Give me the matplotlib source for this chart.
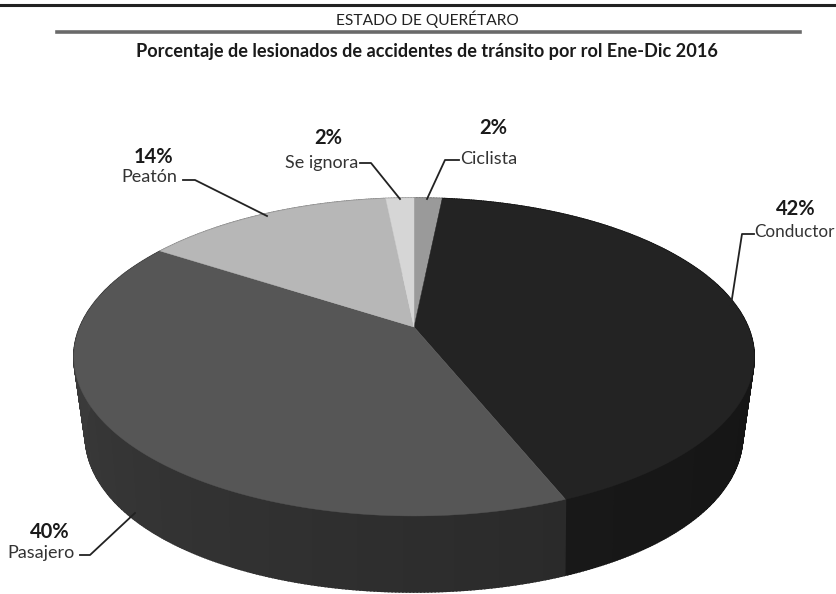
from matplotlib import pyplot as plt
from matplotlib.colors import to_rgb
from matplotlib.patches import Polygon
import numpy as np

roles = ['Ciclista', 'Conductor', 'Pasajero', 'Peatón', 'Se ignora']
shares = [1.6, 42.3, 40.3, 14.2, 1.6]
pct_labels = ['2%', '42%', '40%', '14%', '2%']
top_grey = ['#9a9a9a', '#232323', '#565656', '#b7b7b7', '#d6d6d6']
side_grey = [('#777777', '#777777'), ('#0f0f0f', '#181818'), ('#2a2a2a', '#404040'),
             ('#888888', '#888888'), ('#999999', '#999999')]

plt.rcParams['font.family'] = ['Lato', 'DejaVu Sans']

# projected circle: apex is not the ellipse centre because of the perspective
cx, cy = 414, 327
a, b, k = 334, 153.3, 0.1887
depth = 76
pinch = 0.035


def project(deg):
    t = np.radians(deg)
    w = 1 + k*np.sin(t)
    return cx + a*np.cos(t)/w, cy - b*np.sin(t)/w


fig = plt.figure(figsize=(8.36, 5.94), dpi=100)
ax = fig.add_axes([0, 0, 1, 1], xlim=(0, 836), ylim=(594, 0))
ax.axis('off')

ends = 90 - np.cumsum(shares)*3.6
starts = np.r_[90, ends[:-1]]

# side wall first, lower ring pulled in at the far left and right
for n in range(len(roles)):
    ang = np.linspace(starts[n], ends[n], 2*max(int(abs(ends[n] - starts[n])), 2) + 1)
    x, y = project(ang)
    xb = x - (x - cx)*pinch*np.cos(np.radians(ang))**2
    yb = y + depth
    c0 = np.array(to_rgb(side_grey[n][0]))
    c1 = np.array(to_rgb(side_grey[n][1]))
    for i in range(len(ang) - 1):
        c = c0 + (c1 - c0)*i/(len(ang) - 1)
        pts = [(x[i], y[i]), (x[i+1], y[i+1]), (xb[i+1], yb[i+1]), (xb[i], yb[i])]
        ax.add_patch(Polygon(pts, fc=c, ec=c, lw=1.2, zorder=2))

# top surface
for n in range(len(roles)):
    ang = np.linspace(starts[n], ends[n], 120)
    x, y = project(ang)
    pts = np.vstack([[cx, cy], np.column_stack([x, y])])
    ax.add_patch(Polygon(pts, fc=top_grey[n], ec=top_grey[n], lw=0.3, zorder=3))

# header
ax.plot([0, 836], [5, 5], color='#222222', lw=2.2)
ax.plot([57, 800], [32, 32], color='#6a6a6a', lw=2.6)
ax.text(427, 19, 'ESTADO DE QUERÉTARO', ha='center', va='center', fontsize=11.2, color='#222222')
ax.text(427, 52, 'Porcentaje de lesionados de accidentes de tránsito por rol Ene-Dic 2016',
        ha='center', va='center', fontsize=13.1, fontweight='bold', color='#1a1a1a')

# labels: percent position, name position, name alignment, leader line
pct_xy = [(493, 128), (796, 209), (50, 532), (153, 157), (328, 138)]
name_xy = [(460, 159), (754, 232), (75, 553), (177, 177), (358, 163)]
name_ha = ['left', 'left', 'right', 'right', 'right']
leader_x = [[459, 445, 427], [754, 742, 731], [80, 90, 135], [183, 195, 267], [360, 371, 400]]
leader_y = [[160, 160, 199], [234, 234, 305], [555, 555, 513], [180, 180, 216], [163, 163, 199]]

for n in range(len(roles)):
    ax.text(pct_xy[n][0], pct_xy[n][1], pct_labels[n], ha='center', va='center',
            fontsize=14.5, fontweight='bold', color='#1a1a1a')
    size = 12.3 if roles[n] == 'Conductor' else 13
    ax.text(name_xy[n][0], name_xy[n][1], roles[n], ha=name_ha[n], va='center',
            fontsize=size, color='#333333')
    ax.plot(leader_x[n], leader_y[n], color='#222222', lw=1.3, zorder=4)

fig.savefig('out.png', dpi=100)
